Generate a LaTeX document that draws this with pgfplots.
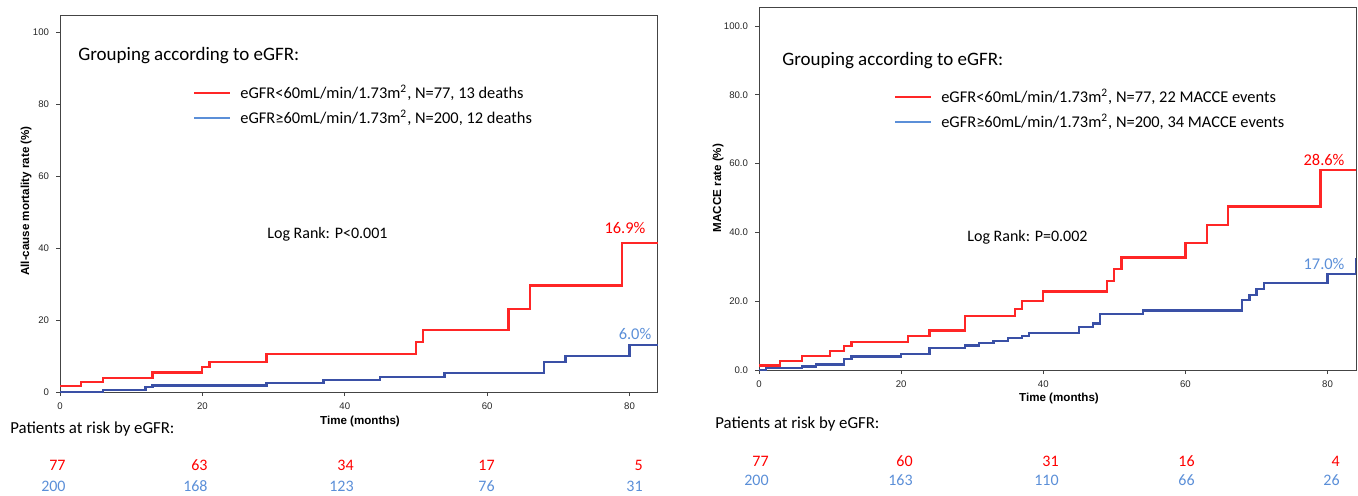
\documentclass[border=0pt]{standalone}
\usepackage{fontspec}
\setmainfont{Carlito}
\newfontfamily\arialf{Liberation Sans}
\usepackage{pgfplots}
\pgfplotsset{compat=1.18}
\definecolor{kmred}{HTML}{FF2626}
\definecolor{kmblue}{HTML}{3A50A6}
\definecolor{txtred}{HTML}{FF0000}
\definecolor{txtblue}{HTML}{5B8FD8}
\definecolor{framec}{HTML}{444444}

\pgfplotsset{
  kmaxis/.style={
    scale only axis,
    anchor=south west,
    xmin=0, xmax=84, ymin=0,
    xtick={0,20,40,60,80},
    ytick={0,20,40,60,80,100},
    tick align=outside, tick pos=left,
    major tick length=2pt,
    axis line style={framec, line width=0.5pt},
    every tick/.style={framec, line width=0.4pt},
    ticklabel style={font=\arialf\fontsize{4.8}{5}\selectfont, text=black!85},
    /pgf/number format/assume math mode=true,
    legend style={draw=none, fill=none, anchor=north west,
      font=\fontsize{8.2}{10}\selectfont, row sep=3.3pt, inner sep=0pt,
      column sep=4pt, nodes={inner sep=0.5pt}},
    legend cell align=left,
    legend image code/.code={\draw[#1] (0pt,0pt) -- (18pt,0pt);},
  },
  redline/.style={kmred, line width=1.1pt, const plot},
  blueline/.style={kmblue, line width=1.1pt, const plot},
}

\begin{document}
\begin{tikzpicture}
\useasboundingbox (0pt,0pt) rectangle (679pt,-247.5pt);

% left panel: all-cause mortality
\begin{axis}[kmaxis,
  at={(30pt,-196pt)}, width=299pt, height=188.5pt, ymax=104.7,
  legend style={at={(0.2224,0.817)}},
]
\addlegendimage{kmred, line width=1pt}
\addlegendentry{eGFR<60mL/min/1.73m\textsuperscript{2}, N=77, 13 deaths}
\addlegendimage{txtblue, line width=1pt}
\addlegendentry{eGFR≥60mL/min/1.73m\textsuperscript{2}, N=200, 12 deaths}
\addplot[redline, forget plot] coordinates {
  (0,1.56) (3,2.75) (6,4.0) (13,5.4) (20,7.0) (21,8.4) (29,10.5)
  (50,13.9) (51,17.3) (63,23.1) (66,29.6) (79,41.3) (84,41.3)};
\addplot[blueline, forget plot] coordinates {
  (0,0) (6,0.6) (12,1.3) (13,1.8) (29,2.5) (37,3.3) (45,4.1)
  (54,5.2) (68,8.3) (71,10.0) (80,13.0) (84,13.0)};
\end{axis}

% right panel: MACCE
\begin{axis}[kmaxis,
  at={(379.5pt,-185pt)}, width=298.5pt, height=181.5pt, ymax=105.5,
  yticklabel style={/pgf/number format/.cd, fixed, fixed zerofill, precision=1},
  legend style={at={(0.2260,0.777)}},
]
\addlegendimage{kmred, line width=1pt}
\addlegendentry{eGFR<60mL/min/1.73m\textsuperscript{2}, N=77, 22 MACCE events}
\addlegendimage{txtblue, line width=1pt}
\addlegendentry{eGFR≥60mL/min/1.73m\textsuperscript{2}, N=200, 34 MACCE events}
\addplot[redline, forget plot] coordinates {
  (0,1.34) (3,2.7) (6,4.0) (10,5.45) (12,6.9) (13,8.2) (21,9.9) (24,11.5)
  (29,15.6) (36,17.8) (37,20.1) (40,22.8) (49,25.9) (50,29.4) (51,32.7)
  (60,36.8) (63,42.2) (66,47.5) (79,58.1) (84,58.1)};
\addplot[blueline, forget plot] coordinates {
  (0,0) (1,0.5) (6,1.0) (8,1.6) (12,3.3) (13,3.9) (20,4.6) (24,6.4)
  (29,7.1) (31,7.8) (33,8.4) (35,9.2) (37,10.0) (38,10.7) (45,12.5)
  (47,13.5) (48,16.2) (54,17.3) (68,20.4) (69,21.9) (70,23.5) (71,25.2)
  (80,27.9) (84,27.9) (84,32.6)};
\end{axis}

\begin{scope}[x=0.5pt, y=-0.5pt]
% axis titles
\begin{scope}[every node/.style={font=\arialf\bfseries\fontsize{5.8}{6}\selectfont, inner sep=0pt}]
\node[rotate=90] at (26,201) {All-cause mortality rate (\%)};
\node[rotate=90] at (718,188) {MACCE rate (\%)};
\node at (360,421) {Time (months)};
\node at (1059,398) {Time (months)};
\end{scope}

% annotations
\begin{scope}[every node/.style={inner sep=0pt}]
\node[anchor=west, font=\fontsize{9.5}{11}\selectfont] at (78,56) {Grouping according to eGFR:};
\node[anchor=west, font=\fontsize{9.5}{11}\selectfont] at (782,61) {Grouping according to eGFR:};
\node[anchor=west, font=\fontsize{8}{10}\selectfont] at (267,234) {Log Rank: P<0.001};
\node[anchor=west, font=\fontsize{8}{10}\selectfont] at (967,237) {Log Rank: P=0.002};
\node[font=\fontsize{8.2}{10}\selectfont, text=txtred] at (625,228) {16.9\%};
\node[font=\fontsize{8.2}{10}\selectfont, text=txtblue] at (635,334) {6.0\%};
\node[font=\fontsize{8.2}{10}\selectfont, text=txtred] at (1324,160) {28.6\%};
\node[font=\fontsize{8.2}{10}\selectfont, text=txtblue] at (1324,264) {17.0\%};
\node[anchor=west, font=\fontsize{8.4}{10}\selectfont] at (10,429) {Patients at risk by eGFR:};
\node[anchor=west, font=\fontsize{8.4}{10}\selectfont] at (715,424) {Patients at risk by eGFR:};
\end{scope}

% numbers at risk
\begin{scope}[every node/.style={inner sep=0pt, anchor=east, font=\fontsize{8}{10}\selectfont}]
\node[text=txtred] at (66,465) {77};
\node[text=txtred] at (208,465) {63};
\node[text=txtred] at (354,465) {34};
\node[text=txtred] at (495,465) {17};
\node[text=txtred] at (643,465) {5};
\node[text=txtblue] at (66,486) {200};
\node[text=txtblue] at (208,486) {168};
\node[text=txtblue] at (354,486) {123};
\node[text=txtblue] at (495,486) {76};
\node[text=txtblue] at (643,486) {31};
\node[text=txtred] at (769,461) {77};
\node[text=txtred] at (913,461) {60};
\node[text=txtred] at (1059,461) {31};
\node[text=txtred] at (1195,461) {16};
\node[text=txtred] at (1340,461) {4};
\node[text=txtblue] at (769,480) {200};
\node[text=txtblue] at (913,480) {163};
\node[text=txtblue] at (1059,480) {110};
\node[text=txtblue] at (1195,480) {66};
\node[text=txtblue] at (1340,480) {26};
\end{scope}
\end{scope}
\end{tikzpicture}
\end{document}
